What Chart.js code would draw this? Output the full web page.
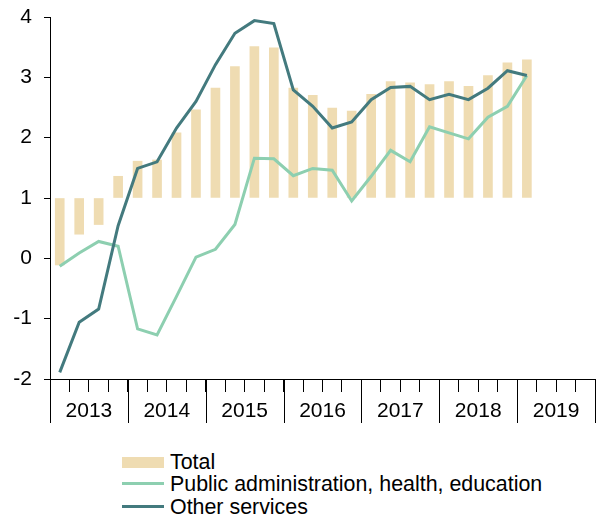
<!DOCTYPE html>
<html>
<head>
<meta charset="utf-8">
<script src="https://cdn.jsdelivr.net/npm/chart.js@4.4.1/dist/chart.umd.min.js"></script>
<style>
    body { margin: 0; background: #fff; font-family: "Liberation Sans", Arial, sans-serif; }
    #wrap { position: relative; width: 602px; height: 518px; }
    #chart { position: absolute; left: 0; top: 0; }
    .legend-row { position: absolute; left: 122px; height: 22px; line-height: 22px; display: flex; align-items: center; font-size: 21.4px; color: #000; white-space: nowrap; }
    .swatch { width: 42px; margin-right: 6px; }
</style>
</head>
<body>
<div id="wrap">
    <canvas id="chart" width="602" height="440"></canvas>
    <div class="legend-row" style="top: 451px;"><span class="swatch" style="height: 11px; background: #efdcb2;"></span>Total</div>
    <div class="legend-row" style="top: 472.5px;"><span class="swatch" style="height: 3px; background: #8dcfb0;"></span>Public administration, health, education</div>
    <div class="legend-row" style="top: 495.5px;"><span class="swatch" style="height: 3px; background: #437a7e;"></span>Other services</div>
</div>

<script>
// data

const years = ["2013", "2014", "2015", "2016", "2017", "2018", "2019"];

const quarters = [
    "2013Q1", "2013Q2", "2013Q3", "2013Q4",
    "2014Q1", "2014Q2", "2014Q3", "2014Q4",
    "2015Q1", "2015Q2", "2015Q3", "2015Q4",
    "2016Q1", "2016Q2", "2016Q3", "2016Q4",
    "2017Q1", "2017Q2", "2017Q3", "2017Q4",
    "2018Q1", "2018Q2", "2018Q3", "2018Q4",
    "2019Q1",
];

const total = [-0.11, 0.40, 0.56, 1.36, 1.61, 1.63, 2.08, 2.46, 2.82, 3.18, 3.51, 3.49,
    2.82, 2.70, 2.49, 2.44, 2.72, 2.93, 2.91, 2.88, 2.93, 2.85, 3.03, 3.24, 3.29];

const publicAdmin = [-0.13, 0.09, 0.28, 0.20, -1.17, -1.27, -0.63, 0.02, 0.15, 0.56, 1.66, 1.65,
    1.37, 1.49, 1.46, 0.95, 1.36, 1.79, 1.60, 2.18, 2.08, 1.98, 2.34, 2.52, 3.03];

const otherServices = [-1.89, -1.06, -0.84, 0.54, 1.49, 1.60, 2.16, 2.60, 3.21, 3.73, 3.94, 3.89,
    2.79, 2.52, 2.16, 2.26, 2.63, 2.83, 2.85, 2.63, 2.72, 2.63, 2.82, 3.11, 3.03];

const yTicks = [-2, -1, 0, 1, 2, 3, 4];

// quarter i sits in the middle of its slot on the x axis
const toPoints = (arr) => arr.map((v, i) => ({ x: i + 0.5, y: v }));

const font = { family: "'Liberation Sans', Arial, sans-serif", size: 21 };

// long year separators below the axis
const yearLines = {
    id: "yearLines",
    afterDraw(chart) {
        const ctx = chart.ctx;
        const xs = chart.scales.x;
        const bottom = chart.chartArea.bottom;
        ctx.save();
        ctx.strokeStyle = "#000";
        ctx.lineWidth = 1;
        for (let k = 0; k <= years.length; k++) {
            const px = Math.round(xs.getPixelForValue(k * 4)) + 0.5;
            ctx.beginPath();
            ctx.moveTo(px, bottom);
            ctx.lineTo(px, bottom + 44);
            ctx.stroke();
        }
        ctx.restore();
    }
};

new Chart(document.getElementById("chart"), {
    type: "bar",
    data: {
        datasets: [
            {
                type: "line",
                label: "Other services",
                data: toPoints(otherServices),
                borderColor: "#437a7e",
                borderWidth: 3,
                pointRadius: 0,
                order: 0,
            },
            {
                type: "line",
                label: "Public administration, health, education",
                data: toPoints(publicAdmin),
                borderColor: "#8dcfb0",
                borderWidth: 3,
                pointRadius: 0,
                order: 1,
            },
            {
                label: "Total",
                data: toPoints(total),
                base: 1,
                backgroundColor: "#efdcb2",
                barThickness: 9,
                order: 2,
            },
        ],
    },
    options: {
        responsive: false,
        animation: false,
        devicePixelRatio: 1,
        layout: { padding: { top: 17, right: 1, bottom: 0, left: 0 } },
        plugins: {
            legend: { display: false },
            tooltip: { enabled: false },
        },
        scales: {
            x: {
                type: "linear",
                offset: false,
                min: 0,
                max: quarters.length + 3,
                grid: { drawOnChartArea: false, offset: false, color: "#000", tickLength: 13 },
                border: { color: "#000" },
                ticks: {
                    stepSize: 1,
                    autoSkip: false,
                    maxRotation: 0,
                    padding: 7,
                    color: "#000",
                    font: font,
                    callback: (v) => (v % 4 === 2 ? years[(v - 2) / 4] : ""),
                },
                afterFit: (s) => { s.height = 61; },
            },
            y: {
                min: yTicks[0],
                max: yTicks[yTicks.length - 1],
                grid: { drawOnChartArea: false, color: "#000", tickLength: 6 },
                border: { color: "#000" },
                ticks: {
                    stepSize: 1,
                    padding: 12,
                    color: "#000",
                    font: font,
                },
                afterFit: (s) => {
                    s.width = 50;
                    s.paddingTop = 0;
                    s.paddingBottom = 0;
                },
            },
        },
    },
    plugins: [yearLines],
});
</script>
</body>
</html>
